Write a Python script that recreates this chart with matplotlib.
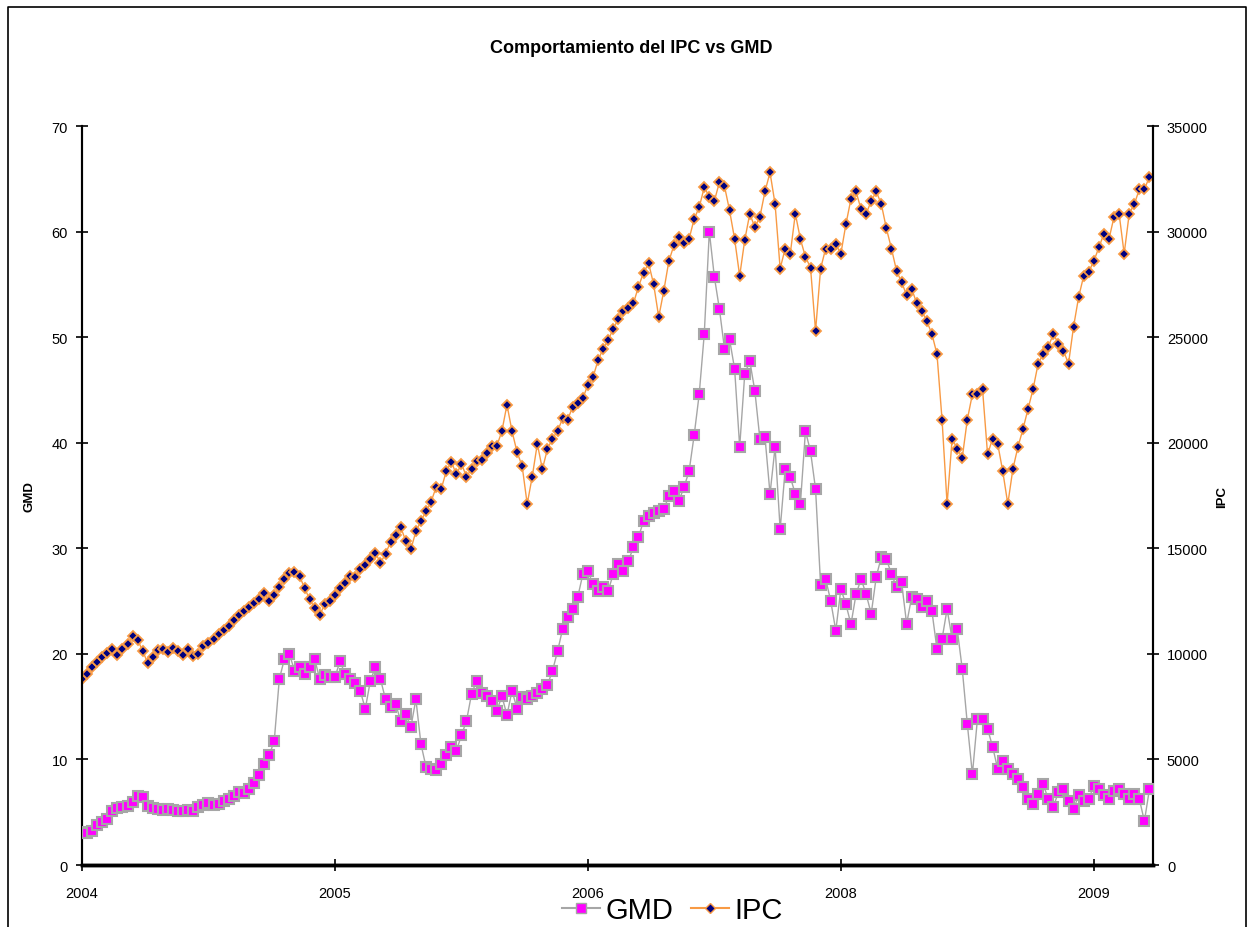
import numpy as np
import matplotlib.pyplot as plt
from matplotlib.lines import Line2D

plt.rcParams['font.family'] = ['Liberation Sans', 'DejaVu Sans']

# weekly samples (index), tick labels as printed on the original axis
tick_pos = [0, 50, 100, 150, 200]
tick_labels = ['2004', '2005', '2006', '2008', '2009']

# IPC index (points)
ipc = [8800, 9050, 9400, 9600, 9850, 10050, 10250, 9950, 10250, 10450,
       10850, 10650, 10150, 9550, 9850, 10200, 10250, 10100, 10300, 10150,
       9950, 10250, 9900, 10000, 10350, 10500, 10700, 10950, 11150, 11300,
       11600, 11850, 12050, 12200, 12400, 12600, 12900, 12500, 12800, 13150,
       13550, 13850, 13900, 13700, 13100, 12600, 12150, 11850, 12350, 12500,
       12800, 13100, 13350, 13700, 13650, 14000, 14200, 14500, 14800, 14300,
       14750, 15300, 15650, 16000, 15350, 14950, 15800, 16300, 16750, 17200,
       17900, 17800, 18650, 19100, 18500, 19000, 18400, 18750, 19150, 19200,
       19500, 19850, 19850, 20550, 21800, 20550, 19550, 18900, 17100, 18400,
       19950, 18750, 19700, 20200, 20550, 21150, 21100, 21700, 21900, 22100,
       22750, 23100, 23900, 24450, 24850, 25400, 25850, 26250, 26400, 26600,
       27400, 28050, 28500, 27500, 25950, 27200, 28600, 29350, 29750, 29450,
       29650, 30600, 31150, 32100, 31650, 31450, 32350, 32150, 31000, 29650,
       27900, 29600, 30850, 30200, 30700, 31900, 32800, 31300, 28250, 29200,
       28950, 30850, 29650, 28800, 28300, 25300, 28250, 29200, 29200, 29400,
       28950, 30350, 31550, 31900, 31050, 30850, 31450, 31900, 31300, 30150,
       29200, 28150, 27600, 27000, 27300, 26600, 26250, 25750, 25150, 24200,
       21100, 17100, 20200, 19700, 19300, 21100, 22300, 22300, 22550, 19450,
       20200, 19950, 18650, 17100, 18750, 19800, 20650, 21600, 22550, 23750,
       24200, 24550, 25150, 24700, 24350, 23750, 25500, 26900, 27900, 28100,
       28600, 29250, 29900, 29650, 30700, 30850, 28950, 30850, 31300, 32000,
       32000, 32600]

# GMD share price
gmd = [3.1, 3.0, 3.2, 3.8, 4.1, 4.35, 5.1, 5.4, 5.5, 5.6,
       6.0, 6.55, 6.45, 5.6, 5.4, 5.3, 5.2, 5.3, 5.2, 5.1,
       5.1, 5.2, 5.1, 5.5, 5.7, 5.85, 5.7, 5.8, 6.05, 6.25,
       6.55, 6.9, 6.8, 7.2, 7.75, 8.5, 9.55, 10.4, 11.75, 17.6,
       19.5, 20.0, 18.4, 18.75, 18.1, 18.75, 19.5, 17.6, 18.0, 17.8,
       17.8, 19.3, 18.1, 17.6, 17.25, 16.5, 14.8, 17.45, 18.75, 17.6,
       15.7, 14.95, 15.25, 13.65, 14.3, 13.05, 15.7, 11.45, 9.3, 9.1,
       9.0, 9.55, 10.4, 11.2, 10.8, 12.3, 13.65, 16.2, 17.45, 16.3,
       16.0, 15.55, 14.6, 16.0, 14.2, 16.5, 14.8, 15.9, 15.7, 16.0,
       16.3, 16.65, 17.05, 18.4, 20.25, 22.35, 23.5, 24.25, 25.4, 27.55,
       27.85, 26.6, 25.95, 26.35, 25.95, 27.55, 28.5, 27.85, 28.8, 30.1,
       31.05, 32.6, 33.05, 33.35, 33.55, 33.7, 34.95, 35.4, 34.5, 35.8,
       37.3, 40.7, 44.6, 50.3, 60.0, 55.7, 52.65, 48.9, 49.8, 47.0,
       39.6, 46.5, 47.75, 44.9, 40.35, 40.55, 35.15, 39.6, 31.8, 37.5,
       36.75, 35.15, 34.2, 41.1, 39.2, 35.6, 26.5, 27.1, 25.0, 22.2,
       26.15, 24.7, 22.8, 25.65, 27.1, 25.65, 23.8, 27.3, 29.2, 29.0,
       27.55, 26.35, 26.8, 22.85, 25.4, 25.2, 24.45, 25.0, 24.05, 20.45,
       21.4, 24.25, 21.4, 22.35, 18.55, 13.35, 8.6, 13.85, 13.85, 12.9,
       11.2, 9.1, 9.85, 9.1, 8.6, 8.15, 7.4, 6.25, 5.8, 6.7,
       7.65, 6.25, 5.5, 6.9, 7.2, 6.05, 5.3, 6.6, 6.05, 6.25,
       7.5, 7.2, 6.6, 6.25, 7.0, 7.2, 6.7, 6.25, 6.7, 6.25,
       4.15, 7.2]

x = np.arange(len(gmd))

fig = plt.figure(figsize=(12.5, 9.28), dpi=100)
ax = fig.add_axes([0.0656, 0.0668, 0.8568, 0.7963])
ax2 = ax.twinx()

# IPC on the right axis
ax2.plot(x, ipc, color='#F89A44', lw=1.0, marker='D', markersize=5.5,
         markerfacecolor='#000080', markeredgecolor='#F89A44', markeredgewidth=1.3)
ax2.set_ylim(0, 35000)
ax2.set_yticks(range(0, 35001, 5000))
ax2.set_ylabel('IPC', fontsize=9.5, fontweight='bold', labelpad=6)

# GMD on the left axis
ax.plot(x, gmd, color='#A6A6A6', lw=1.0, marker='s', markersize=7.5,
        markerfacecolor='#FF00FF', markeredgecolor='#A6A6A6', markeredgewidth=1.5,
        zorder=3)
ax.set_zorder(ax2.get_zorder() + 1)
ax.patch.set_visible(False)
ax.set_ylim(0, 70)
ax.set_yticks(range(0, 71, 10))
ax.set_ylabel('GMD', fontsize=9.5, fontweight='bold', labelpad=12)

ax.set_xlim(0, 211.7)
ax.set_xticks(tick_pos)
ax.set_xticklabels(tick_labels)

for a in (ax, ax2):
    a.spines['top'].set_visible(False)
    a.spines['left'].set_linewidth(1.5)
    a.spines['right'].set_linewidth(1.5)
    a.spines['bottom'].set_linewidth(2.5)
    a.tick_params(direction='inout', length=8, width=1.2, labelsize=10.5, pad=6)
ax.tick_params(axis='x', pad=11)

fig.suptitle('Comportamiento del IPC vs GMD', x=0.505, y=0.957,
             fontsize=13, fontweight='bold')

handles = [
    Line2D([], [], color='#A6A6A6', lw=1.5, marker='s', markersize=7,
           markerfacecolor='#FF00FF', markeredgecolor='#A6A6A6'),
    Line2D([], [], color='#F89A44', lw=1.5, marker='D', markersize=5,
           markerfacecolor='#000080', markeredgecolor='#F89A44'),
]
fig.legend(handles, ['GMD', 'IPC'], loc='center', bbox_to_anchor=(0.538, 0.018),
           ncol=2, frameon=False, fontsize=21, handlelength=1.3,
           handletextpad=0.2, columnspacing=0.6)

# chart area border
fig.add_artist(Line2D([0.0064, 0.0064, 0.9968, 0.9968], [0.0, 0.991, 0.991, 0.0],
                      transform=fig.transFigure, color='black', lw=1.2))

fig.savefig('out.png', dpi=100)
